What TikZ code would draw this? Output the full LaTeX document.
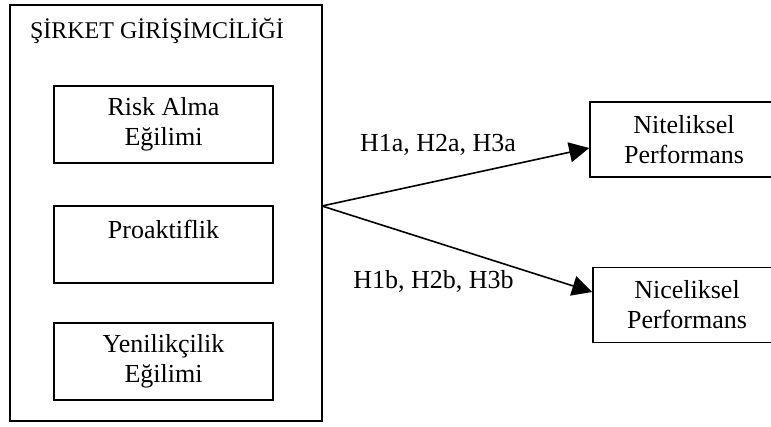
\documentclass[tikz,border=0pt]{standalone}
\usepackage{fontspec}
\setmainfont{Liberation Serif}
\usetikzlibrary{arrows.meta}

\begin{document}
\begin{tikzpicture}[x=0.5pt,y=-0.5pt]
		\tikzset{box/.style = {draw, line width=0.8pt, align=center, minimum width=109.5pt, minimum height=38.5pt, font=\fontsize{13}{15}\selectfont}}
		\tikzset{outbox/.style = {draw, line width=0.8pt, align=center, minimum width=94pt, minimum height=37.5pt, font=\fontsize{13}{15}\selectfont}}
		\tikzset{hyp/.style = {font=\fontsize{13}{15}\selectfont}}
		\tikzset{link/.style = {line width=0.8pt, -{Triangle[length=10pt,width=10pt]}}}

		\clip (0,0) rectangle (771,427);

		\node[draw, line width=0.8pt, minimum width=156pt, minimum height=208pt] (sirket) at (166,213) {};
		\node[font=\fontsize{12}{14}\selectfont] (baslik) at (157,31) {ŞİRKET GİRİŞİMCİLİĞİ};

		\node[box] (risk) at (163.5,124.5) {Risk Alma\\Eğilimi};
		\node[box] (proak) at (163.5,244.5) {Proaktiflik\\\mbox{}};
		\node[box] (yenilik) at (163.5,361.5) {Yenilikçilik\\Eğilimi};

		\node[outbox] (nitel) at (684,139.5) {Niteliksel\\Performans};
		\node[outbox] (nicel) at (687,305) {Niceliksel\\Performans};

		\coordinate (cikis) at (322,206);


		\draw[link] (cikis)--([yshift=-4.25pt]nitel.west);
		\draw[link] (cikis)--([yshift=6.5pt]nicel.west);

		\node[hyp] (h_a) at (438,145) {H1a, H2a, H3a};
		\node[hyp] (h_b) at (433.5,281) {H1b, H2b, H3b};

	\end{tikzpicture}
\end{document}
